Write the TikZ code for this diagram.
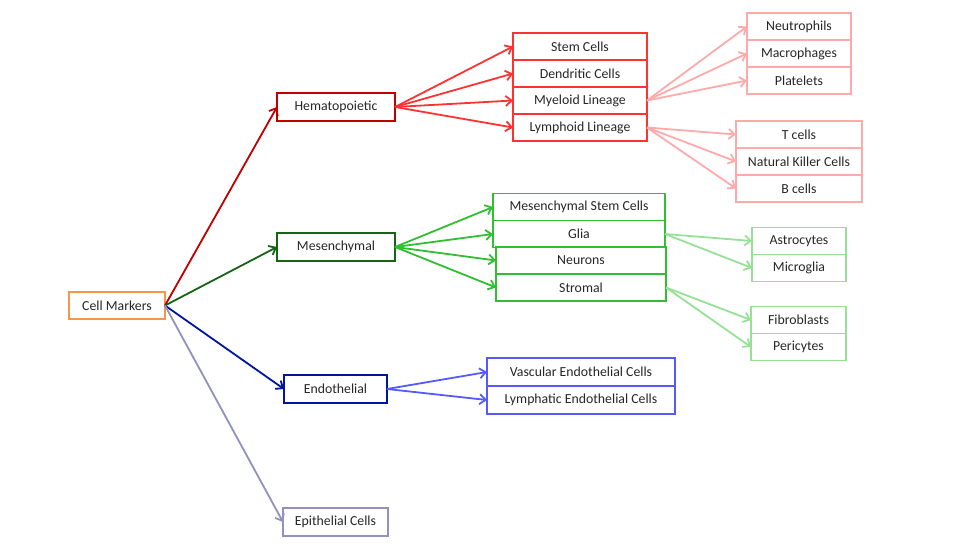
\documentclass[tikz,border=0pt]{standalone}
\usepackage{fontspec}
\setmainfont{Carlito}
\usetikzlibrary{arrows.meta}
\usetikzlibrary{positioning}
\definecolor{rootcolor}{RGB}{247,150,70}
\definecolor{hemcolor}{RGB}{192,0,0}
\definecolor{hemsubcolor}{RGB}{255,50,50}
\definecolor{hemleafcolor}{RGB}{255,170,170}
\definecolor{mescolor}{RGB}{20,100,20}
\definecolor{messubcolor}{RGB}{50,190,50}
\definecolor{mesleafcolor}{RGB}{150,225,150}
\definecolor{endocolor}{RGB}{0,20,160}
\definecolor{endosubcolor}{RGB}{85,90,255}
\definecolor{epicolor}{RGB}{145,145,190}

\begin{document}
\begin{tikzpicture}[x=1pt, y=-1pt,
    box/.style={draw, line width=1.8pt, minimum height=27pt, inner sep=0pt, outer sep=0pt, text=black!85, font=\fontsize{13.8}{16}\selectfont},
    link/.style={line width=1.8pt, -{Straight Barb[length=6pt, width=10pt]}}]

    \useasboundingbox (0,0) rectangle (958,552);

    % root and first level
    \node [box, draw=rootcolor, minimum width=96pt] (cellmarkers) at (117,305.5) {Cell Markers};
    \node [box, draw=hemcolor, minimum width=118pt, minimum height=28pt] (hemato) at (336,107) {Hematopoietic};
    \node [box, draw=mescolor, minimum width=118pt, minimum height=28pt] (mesen) at (336,247) {Mesenchymal};
    \node [box, draw=endocolor, minimum width=103pt, minimum height=28pt] (endo) at (335.5,389) {Endothelial};
    \node [box, draw=epicolor, minimum width=105pt, minimum height=28pt] (epi) at (335.5,522) {Epithelial Cells};

    \draw [link, color=hemcolor] (cellmarkers.east) -- (hemato.west);
    \draw [link, color=mescolor] (cellmarkers.east) -- (mesen.west);
    \draw [link, color=endocolor] (cellmarkers.east) -- (endo.west);
    \draw [link, color=epicolor] (cellmarkers.east) -- (epi.west);

    % hematopoietic
    \node [box, draw=hemsubcolor, minimum width=134pt] (stem) at (580,46.5) {Stem Cells};
    \node [box, draw=hemsubcolor, minimum width=134pt, below=0pt of stem] (dendritic) {Dendritic Cells};
    \node [box, draw=hemsubcolor, minimum width=134pt, below=0pt of dendritic] (myeloid) {Myeloid Lineage};
    \node [box, draw=hemsubcolor, minimum width=134pt, below=0pt of myeloid] (lymphoid) {Lymphoid Lineage};

    \draw [link, color=hemsubcolor] (hemato.east) -- (stem.west);
    \draw [link, color=hemsubcolor] (hemato.east) -- (dendritic.west);
    \draw [link, color=hemsubcolor] (hemato.east) -- (myeloid.west);
    \draw [link, color=hemsubcolor] (hemato.east) -- (lymphoid.west);

    \node [box, draw=hemleafcolor, minimum width=104pt] (neutro) at (799,26.5) {Neutrophils};
    \node [box, draw=hemleafcolor, minimum width=104pt, below=0pt of neutro] (macro) {Macrophages};
    \node [box, draw=hemleafcolor, minimum width=104pt, below=0pt of macro] (platelets) {Platelets};

    \draw [link, color=hemleafcolor] (myeloid.east) -- (neutro.west);
    \draw [link, color=hemleafcolor] (myeloid.east) -- (macro.west);
    \draw [link, color=hemleafcolor] (myeloid.east) -- (platelets.west);

    \node [box, draw=hemleafcolor, minimum width=126pt] (tcells) at (799,134.5) {T cells};
    \node [box, draw=hemleafcolor, minimum width=126pt, below=0pt of tcells] (nkcells) {Natural Killer Cells};
    \node [box, draw=hemleafcolor, minimum width=126pt, below=0pt of nkcells] (bcells) {B cells};

    \draw [link, color=hemleafcolor] (lymphoid.east) -- (tcells.west);
    \draw [link, color=hemleafcolor] (lymphoid.east) -- (nkcells.west);
    \draw [link, color=hemleafcolor] (lymphoid.east) -- (bcells.west);

    % mesenchymal
    \node [box, draw=messubcolor, minimum width=172pt] (msc) at (579,207) {Mesenchymal Stem Cells};
    \node [box, draw=messubcolor, minimum width=172pt, below=0pt of msc] (glia) {Glia};
    \node [box, draw=messubcolor, minimum width=170pt] (neurons) at (581,260.5) {Neurons};
    \node [box, draw=messubcolor, minimum width=170pt, below=0pt of neurons] (stromal) {Stromal};

    \draw [link, color=messubcolor] (mesen.east) -- (msc.west);
    \draw [link, color=messubcolor] (mesen.east) -- (glia.west);
    \draw [link, color=messubcolor] (mesen.east) -- (neurons.west);
    \draw [link, color=messubcolor] (mesen.east) -- (stromal.west);

    \node [box, draw=mesleafcolor, minimum width=94pt] (astro) at (799,241) {Astrocytes};
    \node [box, draw=mesleafcolor, minimum width=94pt, below=0pt of astro] (micro) {Microglia};

    \draw [link, color=mesleafcolor] (glia.east) -- (astro.west);
    \draw [link, color=mesleafcolor] (glia.east) -- (micro.west);

    \node [box, draw=mesleafcolor, minimum width=95pt] (fibro) at (798.5,320) {Fibroblasts};
    \node [box, draw=mesleafcolor, minimum width=95pt, below=0pt of fibro] (peri) {Pericytes};

    \draw [link, color=mesleafcolor] (stromal.east) -- (fibro.west);
    \draw [link, color=mesleafcolor] (stromal.east) -- (peri.west);

    % endothelial
    \node [box, draw=endosubcolor, minimum width=188pt, minimum height=28pt] (vascular) at (581,372) {Vascular Endothelial Cells};
    \node [box, draw=endosubcolor, minimum width=188pt, minimum height=28pt, below=0pt of vascular] (lymphatic) {Lymphatic Endothelial Cells};

    \draw [link, color=endosubcolor] (endo.east) -- (vascular.west);
    \draw [link, color=endosubcolor] (endo.east) -- (lymphatic.west);

\end{tikzpicture}
\end{document}
